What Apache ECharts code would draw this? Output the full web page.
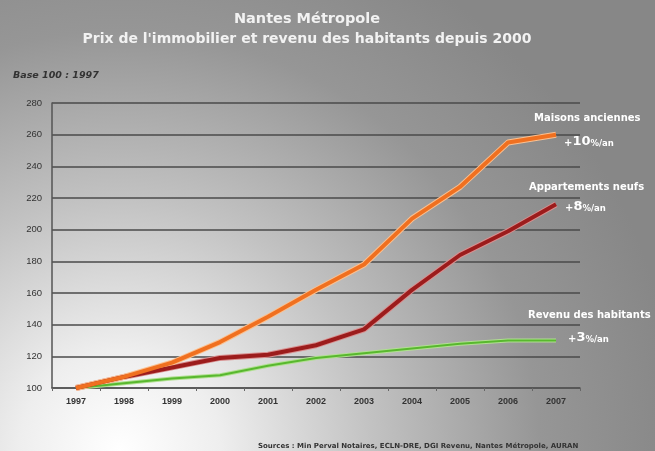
<!DOCTYPE html>
<html><head><meta charset="utf-8">
<script src="https://cdn.jsdelivr.net/npm/echarts@6/dist/echarts.min.js"></script>
<style>html,body{margin:0;padding:0;}#c{width:655px;height:451px;}</style>
</head><body><div id="c"></div>
<script>
const years = ['1997','1998','1999','2000','2001','2002','2003','2004','2005','2006','2007'];
const maisonsAnciennes = [100,107,116,129,145,162,178,207,227,255,260];
const appartementsNeufs = [100,107,113,119,121,127,137,162,184,199,216];
const revenuHabitants = [100,103,106,108,114,119,122,125,128,130,130];
const yTicks = {min:100, max:280, interval:20};

const chart = echarts.init(document.getElementById('c'));
const F = 'Liberation Sans, Arial, sans-serif';
const D = 'DejaVu Sans, sans-serif';
function line(name, data, color, edge, w){
  return [
    {name:name+'_edge', type:'line', data:data, symbol:'none', silent:true, z:2,
     lineStyle:{color:edge, width:w+2}},
    {name:name, type:'line', data:data, symbol:'none', z:3,
     lineStyle:{color:color, width:w}}
  ];
}
function rate(x, y, n){
  const tk = {
    a:{fill:'#fff', font:'bold 10px '+D, verticalAlign:'bottom'},
    b:{fill:'#fff', font:'bold 13px '+D, verticalAlign:'bottom'},
    c:{fill:'#fff', font:'bold 8.5px '+D, verticalAlign:'bottom'}
  };
  return {type:'text', x:x, y:y, style:{text:'{a|+}{b|'+n+'}{c|%/an}', verticalAlign:'middle', rich:tk}};
}
function lab(x, y, t){
  return {type:'text', x:x, y:y, style:{text:t, fill:'#fff', font:'bold 10px '+D, verticalAlign:'middle'}};
}
chart.setOption({
  backgroundColor:{type:'radial', x:120, y:451, r:560, global:true,
    colorStops:[{offset:0,color:'#ffffff'},{offset:0.18,color:'#eeeeee'},{offset:0.45,color:'#c2c2c2'},{offset:0.75,color:'#969696'},{offset:1,color:'#878787'}]},
  animation:false,
  graphic:[
    {type:'text', x:307, y:19, style:{text:'Nantes Métropole', fill:'#f2f2f2', font:'bold 14.5px '+D, align:'center', verticalAlign:'middle'}},
    {type:'text', x:307, y:39, style:{text:'Prix de l\'immobilier et revenu des habitants depuis 2000', fill:'#f2f2f2', font:'bold 14px '+D, align:'center', verticalAlign:'middle'}},
    {type:'text', x:13, y:76, style:{text:'Base 100 : 1997', fill:'#333', font:'italic bold 9.5px '+D, verticalAlign:'middle'}},
    lab(534, 118, 'Maisons anciennes'),
    rate(564, 142, '10'),
    lab(529, 187, 'Appartements neufs'),
    rate(565, 207, '8'),
    lab(528, 315, 'Revenu des habitants'),
    rate(568, 338, '3'),
    {type:'text', x:258, y:446, style:{text:'Sources : Min Perval Notaires, ECLN-DRE, DGI Revenu, Nantes Métropole, AURAN', fill:'#333', font:'bold 7px '+D, verticalAlign:'middle'}}
  ],
  grid:{left:52, right:75, top:103, bottom:63},
  xAxis:{type:'category', data:years, boundaryGap:true,
    axisLine:{lineStyle:{color:'#555', width:1.5}},
    axisTick:{show:true, length:3, lineStyle:{color:'#666'}},
    axisLabel:{color:'#333', fontSize:9, fontWeight:'bold', fontFamily:F, margin:9}},
  yAxis:{type:'value', min:yTicks.min, max:yTicks.max, interval:yTicks.interval,
    axisLine:{show:true, lineStyle:{color:'#555', width:1.5}},
    axisTick:{show:false},
    splitLine:{lineStyle:{color:'#4a4a4a', width:1.5}},
    axisLabel:{color:'#333', fontSize:9.5, fontFamily:F, margin:10}},
  series:[].concat(
    line('Revenu des habitants', revenuHabitants, '#58b82e', '#b0e090', 2),
    line('Appartements neufs', appartementsNeufs, '#9c1c1c', '#d89090', 4),
    line('Maisons anciennes', maisonsAnciennes, '#f07020', '#fbc090', 4)
  )
});
</script></body></html>
